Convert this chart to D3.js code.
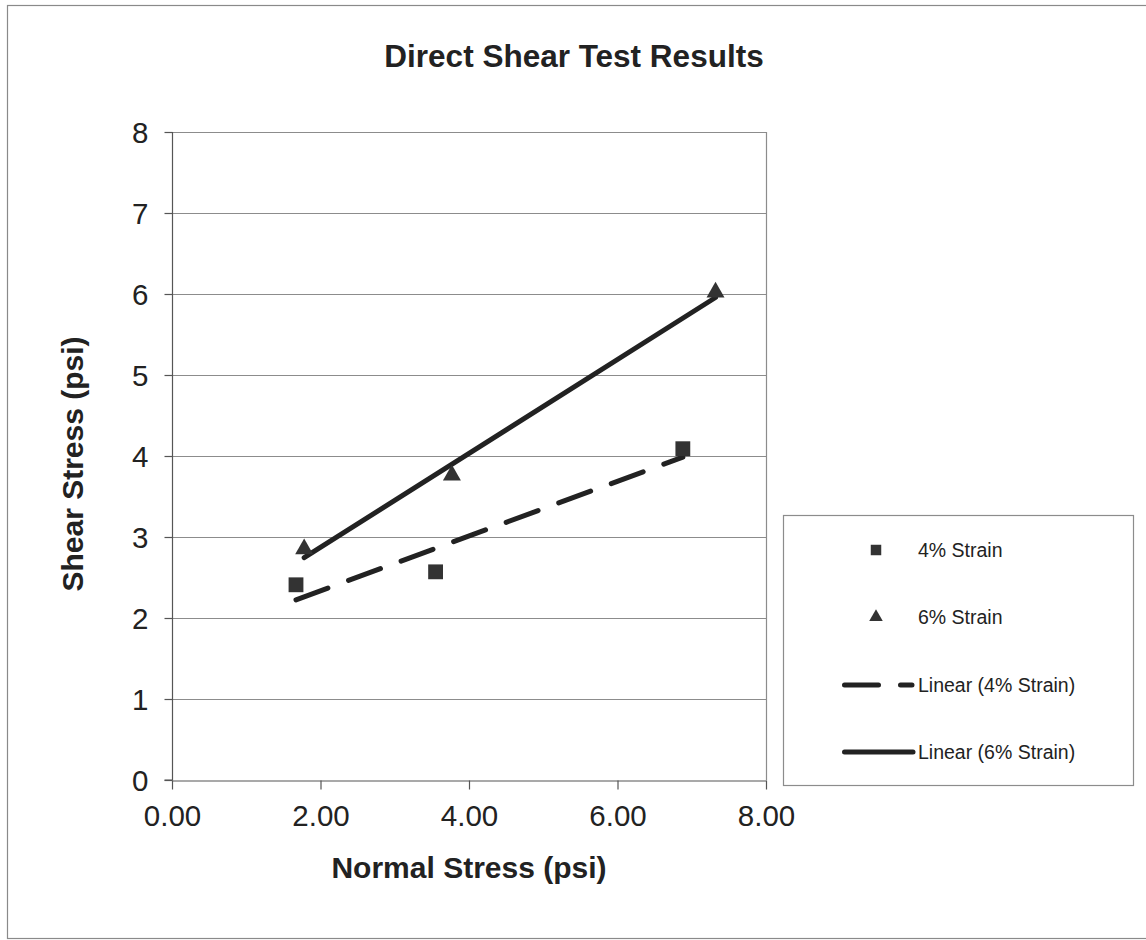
<!DOCTYPE html>
<html>
<head>
<meta charset="utf-8">
<script src="https://cdn.jsdelivr.net/npm/d3@7"></script>
<style>
  html, body { margin: 0; padding: 0; background: #fff; overflow: hidden; }
  svg { display: block; font-family: "Liberation Sans", Arial, sans-serif; }
</style>
</head>
<body>
<svg id="chart" width="1146" height="940"></svg>
<script>
// ---- data ----
const strain4X = [1.67, 3.55, 6.88];
const strain4Y = [2.41, 2.57, 4.09];
const strain6X = [1.78, 3.77, 7.32];
const strain6Y = [2.84, 3.75, 6.01];
const seriesNames = ["4% Strain", "6% Strain", "Linear (4% Strain)", "Linear (6% Strain)"];
const xTicks = [0, 2, 4, 6, 8];
const yTicks = [0, 1, 2, 3, 4, 5, 6, 7, 8];
const titleText = "Direct Shear Test Results";
const xTitle = "Normal Stress (psi)";
const yTitle = "Shear Stress (psi)";

// ---- layout ----
const svg = d3.select("#chart");
const plot = { left: 172, right: 766, top: 132, bottom: 780 };
const x = d3.scaleLinear().domain([0, 8]).range([plot.left, plot.right]);
const y = d3.scaleLinear().domain([0, 8]).range([plot.bottom, plot.top]);
const ink = "#222";

// outer chart border (right edge lies outside the picture)
svg.append("rect").attr("x", 7.5).attr("y", 5.5).attr("width", 1200).attr("height", 933)
  .attr("fill", "none").attr("stroke", "#8a8a8a").attr("stroke-width", 1.2);

// title
svg.append("text").attr("x", 574).attr("y", 67).attr("text-anchor", "middle")
  .attr("font-size", 31.5).attr("font-weight", "bold").attr("fill", ink).text(titleText);

// gridlines
svg.append("g").selectAll("line").data(yTicks.filter(d => d > 0)).join("line")
  .attr("x1", plot.left).attr("x2", plot.right)
  .attr("y1", d => y(d) + 0.5).attr("y2", d => y(d) + 0.5)
  .attr("stroke", "#8c8c8c").attr("stroke-width", 1.2);

// plot right border
svg.append("line").attr("x1", plot.right + 0.5).attr("x2", plot.right + 0.5)
  .attr("y1", plot.top).attr("y2", plot.bottom)
  .attr("stroke", "#8c8c8c").attr("stroke-width", 1.2);

// axes
const xAxis = d3.axisBottom(x).tickValues(xTicks).tickFormat(d3.format(".2f")).tickSize(9).tickSizeOuter(0);
const yAxis = d3.axisLeft(y).tickValues(yTicks).tickFormat(d3.format("d")).tickSize(8).tickSizeOuter(0);

const gx = svg.append("g").attr("transform", `translate(0,${plot.bottom + 0.5})`).call(xAxis);
const gy = svg.append("g").attr("transform", `translate(${plot.left + 0.5},0)`).call(yAxis);
[gx, gy].forEach(g => {
  g.select(".domain").attr("stroke", "#555").attr("stroke-width", 1.2);
  g.selectAll(".tick line").attr("stroke", "#555").attr("stroke-width", 1.2);
  g.selectAll("text").attr("font-size", 29.5).attr("fill", ink)
    .attr("font-family", '"Liberation Sans", Arial, sans-serif');
});
gy.select(".domain").attr("d", `M-8,${plot.bottom}H0V${plot.top}`);
gx.selectAll("text").attr("dy", null).attr("y", 45);
gy.selectAll("text").attr("x", -24).attr("dy", "0.35em");

// axis titles
svg.append("text").attr("x", 469).attr("y", 878).attr("text-anchor", "middle")
  .attr("font-size", 30).attr("font-weight", "bold").attr("fill", ink).text(xTitle);
svg.append("text").attr("transform", "translate(83,464) rotate(-90)").attr("text-anchor", "middle")
  .attr("font-size", 30).attr("font-weight", "bold").attr("fill", ink).text(yTitle);

// trendlines (least squares from data)
function fit(xs, ys) {
  const mx = d3.mean(xs), my = d3.mean(ys);
  const sxy = d3.sum(xs, (v, i) => (v - mx) * (ys[i] - my));
  const sxx = d3.sum(xs, v => (v - mx) * (v - mx));
  const b = sxy / sxx, a = my - b * mx;
  const x0 = d3.min(xs), x1 = d3.max(xs);
  return [[x0, a + b * x0], [x1, a + b * x1]];
}
const line = d3.line().x(d => x(d[0])).y(d => y(d[1]));
svg.append("path").attr("d", line(fit(strain4X, strain4Y)))
  .attr("fill", "none").attr("stroke", ink).attr("stroke-width", 5)
  .attr("stroke-linecap", "round").attr("stroke-dasharray", "34,22");
svg.append("path").attr("d", line(fit(strain6X, strain6Y)))
  .attr("fill", "none").attr("stroke", ink).attr("stroke-width", 5)
  .attr("stroke-linecap", "round");

// markers
const sq = d3.symbol().type(d3.symbolSquare).size(220);
const tri = d3.symbol().type(d3.symbolTriangle).size(140);
svg.append("g").selectAll("path").data(strain4X.map((v, i) => [v, strain4Y[i]])).join("path")
  .attr("d", sq).attr("transform", d => `translate(${x(d[0])},${y(d[1])})`).attr("fill", "#333");
svg.append("g").selectAll("path").data(strain6X.map((v, i) => [v, strain6Y[i]])).join("path")
  .attr("d", tri).attr("transform", d => `translate(${x(d[0])},${y(d[1]) - 1})`).attr("fill", "#333");

// legend
const lg = svg.append("g");
lg.append("rect").attr("x", 783.5).attr("y", 515.5).attr("width", 350).attr("height", 270)
  .attr("fill", "#fff").attr("stroke", "#8c8c8c").attr("stroke-width", 1.2);
const rowsY = [550, 617, 685, 752];
const textX = 918;
lg.selectAll("text").data(seriesNames).join("text")
  .attr("x", textX).attr("y", (d, i) => rowsY[i]).attr("dy", "0.35em")
  .attr("font-size", 19.5).attr("fill", ink).text(d => d);
lg.append("path").attr("d", d3.symbol().type(d3.symbolSquare).size(110)())
  .attr("transform", `translate(876,${rowsY[0]})`).attr("fill", "#333");
lg.append("path").attr("d", d3.symbol().type(d3.symbolTriangle).size(80)())
  .attr("transform", `translate(876,${rowsY[1]})`).attr("fill", "#333");
lg.append("line").attr("x1", 844.5).attr("x2", 912).attr("y1", rowsY[2]).attr("y2", rowsY[2])
  .attr("stroke", ink).attr("stroke-width", 5).attr("stroke-linecap", "round").attr("stroke-dasharray", "34,22");
lg.append("line").attr("x1", 844.5).attr("x2", 913).attr("y1", rowsY[3]).attr("y2", rowsY[3])
  .attr("stroke", ink).attr("stroke-width", 5).attr("stroke-linecap", "round");
</script>
</body>
</html>
